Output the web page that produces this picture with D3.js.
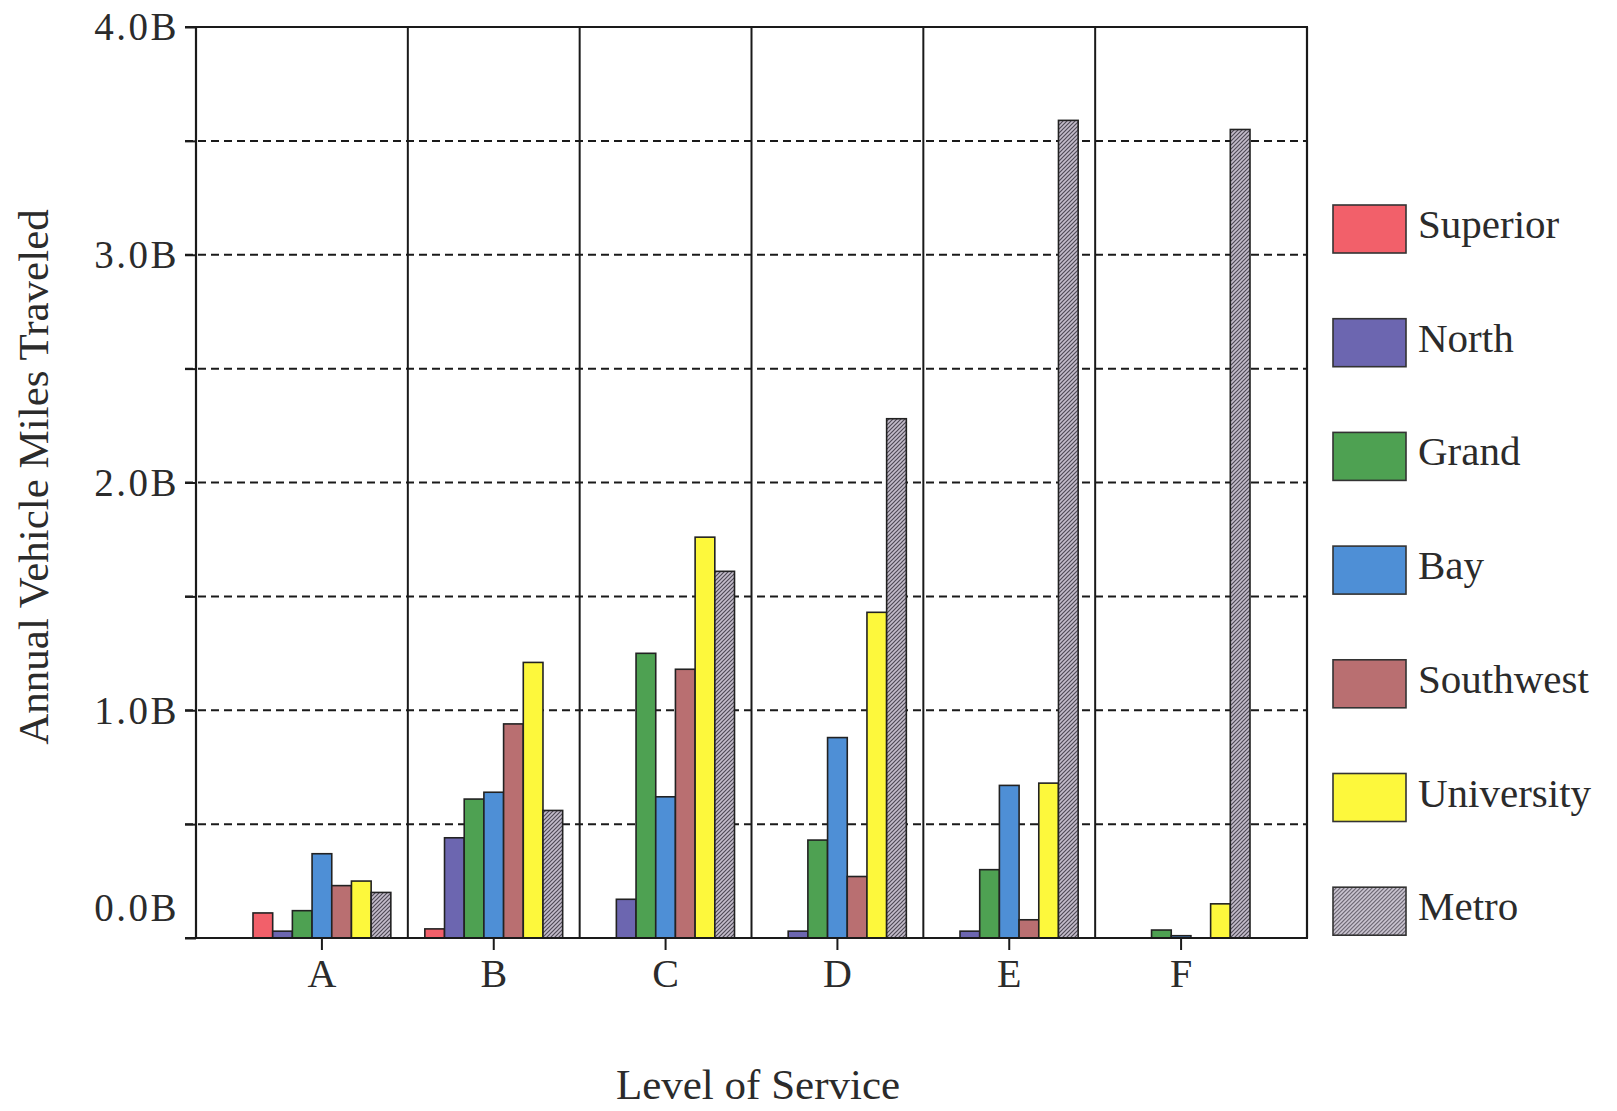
<!DOCTYPE html>
<html>
<head>
<meta charset="utf-8">
<script src="https://cdn.jsdelivr.net/npm/d3@7"></script>
<style>
  html, body { margin: 0; padding: 0; background: #ffffff; }
  svg { display: block; }
  text { font-family: "Liberation Serif", "Times New Roman", serif; fill: #2b2b2b; }
</style>
</head>
<body>
<svg id="chart" width="1617" height="1111"></svg>
<script>
// ---- data ----
const categories = ["A", "B", "C", "D", "E", "F"];
const seriesNames = ["Superior", "North", "Grand", "Bay", "Southwest", "University", "Metro"];
const superior   = [0.11, 0.04, 0,    0,    0,    0];
const north      = [0.03, 0.44, 0.17, 0.03, 0.03, 0];
const grand      = [0.12, 0.61, 1.25, 0.43, 0.30, 0.035];
const bay        = [0.37, 0.64, 0.62, 0.88, 0.67, 0.01];
const southwest  = [0.23, 0.94, 1.18, 0.27, 0.08, 0];
const university = [0.25, 1.21, 1.76, 1.43, 0.68, 0.15];
const metro      = [0.20, 0.56, 1.61, 2.28, 3.59, 3.55];
const yTickValues = [0, 1, 2, 3, 4];
const yTickLabels = ["0.0B", "1.0B", "2.0B", "3.0B", "4.0B"];
const gridValues = [0.5, 1, 1.5, 2, 2.5, 3, 3.5];
const seriesColors = ["#f2606a", "#6c66b0", "#4ea152", "#4e8fd6", "#b96f71", "#fdf83c", "url(#metroHatch)"];
const legendColors = ["#f2606a", "#6c66b0", "#4ea152", "#4e8fd6", "#b96f71", "#fdf83c", "url(#metroHatchLight)"];

const seriesValues = [superior, north, grand, bay, southwest, university, metro];

// ---- layout ----
const svg = d3.select("#chart");
const X0 = 196, X1 = 1307, Y0 = 27, Y1 = 938;

const defs = svg.append("defs");
function hatch(id, bg, fg) {
  const pat = defs.append("pattern").attr("id", id)
    .attr("patternUnits", "userSpaceOnUse").attr("width", 4).attr("height", 4);
  pat.append("rect").attr("width", 4).attr("height", 4).attr("fill", bg);
  pat.append("path").attr("d", "M-1,1 l2,-2 M0,4 l4,-4 M3,5 l2,-2")
    .attr("stroke", fg).attr("stroke-width", 1.2);
}
hatch("metroHatch", "#c4bdcb", "#4f4a56");
hatch("metroHatchLight", "#d2ccd8", "#5f5a66");

const x = d3.scaleBand().domain(categories).range([X0 + 40, X1 - 40]).padding(0);
const step = x.step();
const xs = d3.scaleBand().domain(seriesNames).range([17, step - 17]).padding(0);
const y = d3.scaleLinear().domain([0, 4]).range([Y1, Y0]);

// dashed grid
svg.append("g").selectAll("line").data(gridValues).join("line")
  .attr("x1", X0 - 11).attr("x2", X1)
  .attr("y1", d => y(d)).attr("y2", d => y(d))
  .attr("stroke", "#1a1a1a").attr("stroke-width", 2)
  .attr("stroke-dasharray", "8,5");

// bars
const rows = [];
seriesNames.forEach((s, si) => {
  categories.forEach((c, ci) => {
    const v = seriesValues[si][ci];
    if (v > 0) rows.push({ s, si, c, v });
  });
});
svg.append("g").selectAll("rect").data(rows).join("rect")
  .attr("x", d => x(d.c) + xs(d.s))
  .attr("width", xs.bandwidth())
  .attr("y", d => y(d.v))
  .attr("height", d => y(0) - y(d.v))
  .attr("fill", d => seriesColors[d.si])
  .attr("stroke", "#222")
  .attr("stroke-width", 1.6);

// category dividers
const dividers = categories.slice(1).map(c => x(c));
svg.append("g").selectAll("line").data(dividers).join("line")
  .attr("x1", d => d).attr("x2", d => d)
  .attr("y1", Y0).attr("y2", Y1)
  .attr("stroke", "#1a1a1a").attr("stroke-width", 2);

// frame
const frame = svg.append("g").attr("stroke", "#1a1a1a").attr("stroke-width", 2.2).attr("fill", "none");
frame.append("line").attr("x1", X0 - 11).attr("x2", X1 + 1).attr("y1", Y0).attr("y2", Y0);
frame.append("line").attr("x1", X0 - 11).attr("x2", X1 + 1).attr("y1", Y1).attr("y2", Y1);
frame.append("line").attr("x1", X0).attr("x2", X0).attr("y1", Y0).attr("y2", Y1);
frame.append("line").attr("x1", X1).attr("x2", X1).attr("y1", Y0).attr("y2", Y1);

// y axis ticks (half steps) and labels
const yAxis = d3.axisLeft(y).tickValues(d3.range(0, 4.01, 0.5)).tickSize(11)
  .tickFormat(d => { const i = yTickValues.indexOf(d); return i >= 0 ? yTickLabels[i] : ""; });
const gy = svg.append("g").attr("transform", `translate(${X0},0)`).call(yAxis);
gy.select(".domain").remove();
gy.selectAll(".tick line").attr("stroke", "#1a1a1a").attr("stroke-width", 2);
gy.selectAll(".tick text")
  .attr("x", -17)
  .attr("dy", d => d === 0 ? "-0.45em" : "0.33em")
  .style("font-size", "39px")
  .style("letter-spacing", "2.5px")
  .style("font-family", "'Liberation Serif', serif")
  .attr("fill", "#2b2b2b");

// x axis ticks and labels
const xAxis = d3.axisBottom(x).tickSize(12).tickSizeOuter(0);
const gx = svg.append("g").attr("transform", `translate(0,${Y1})`).call(xAxis);
gx.select(".domain").remove();
gx.selectAll(".tick line").attr("stroke", "#1a1a1a").attr("stroke-width", 2);
gx.selectAll(".tick text")
  .attr("y", 49).attr("dy", 0)
  .style("font-size", "40px")
  .style("font-family", "'Liberation Serif', serif")
  .attr("fill", "#2b2b2b");

// axis titles
svg.append("text")
  .attr("transform", `translate(48,477) rotate(-90)`)
  .attr("text-anchor", "middle")
  .style("font-size", "43px")
  .text("Annual Vehicle Miles Traveled");

svg.append("text")
  .attr("x", 758).attr("y", 1099)
  .attr("text-anchor", "middle")
  .style("font-size", "43px")
  .text("Level of Service");

// legend
const lg = svg.append("g").selectAll("g").data(seriesNames).join("g")
  .attr("transform", (d, i) => `translate(1333,${229 + i * 113.7})`);
lg.append("rect")
  .attr("x", 0).attr("y", -24).attr("width", 73).attr("height", 48)
  .attr("fill", (d, i) => legendColors[i])
  .attr("stroke", "#333").attr("stroke-width", 1.6);
lg.append("text")
  .attr("x", 85).attr("y", 9)
  .style("font-size", "41px")
  .text(d => d);
</script>
</body>
</html>
